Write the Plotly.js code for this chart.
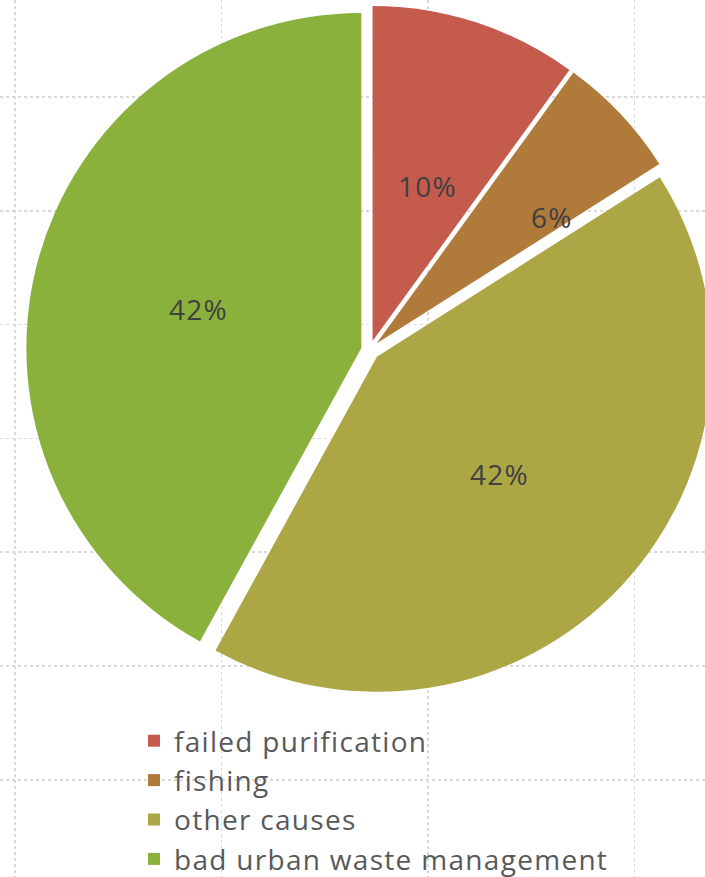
<!DOCTYPE html>
<html>
<head>
<meta charset="utf-8">
<script src="https://cdn.plot.ly/plotly-3.0.1.min.js"></script>
<style>
  html, body { margin: 0; padding: 0; overflow: hidden; background: #ffffff; }
  #chart { width: 740px; height: 900px; }
  .legendtext { letter-spacing: 1.3px; }
  .annotation-text { letter-spacing: 1.2px; }
</style>
</head>
<body>
<div id="chart"></div>
<script>
// ---- data ----
var labels = ["failed purification", "fishing", "other causes", "bad urban waste management"];
var values = [10, 6, 42, 42];
var colors = ["#C45B4D", "#B07A3B", "#ACA645", "#89B13C"];

// ---- layout / style ----
var W = 740, H = 900;              // paper slightly larger than the 705x877 view
var R = 335;                       // pie radius (px)
var CX = 369.6, CY = 350;          // pie centre (px)
var pullPx = [9.5, 9.5, 10, 8.5];  // explode distances (px)
var labelFrac = [0.49, 0.645, 0.505, 0.5];
var labelShift = [1.5, 7.5, 0.5, -1];

var pulls = pullPx.map(function (p) { return p / R; });
var maxPull = Math.max.apply(null, pulls);
var half = R * (1 + maxPull);
var domX = [(CX - half) / W, (CX + half) / W];
var domY = [1 - (CY + half) / H, 1 - (CY - half) / H];

// percentage labels, derived from the values
var total = values.reduce(function (a, b) { return a + b; }, 0);
var annotations = [];
var cum = 0;
for (var i = 0; i < values.length; i++) {
  var mid = 360 * (cum + values[i] / 2) / total;
  cum += values[i];
  var m = mid * Math.PI / 180;
  var tx = CX + pulls[i] * R * Math.sin(m);
  var ty = CY - pulls[i] * R * Math.cos(m);
  var a = (mid + labelShift[i]) * Math.PI / 180;
  var lx = tx + labelFrac[i] * R * Math.sin(a);
  var ly = ty - labelFrac[i] * R * Math.cos(a);
  annotations.push({
    xref: "paper", yref: "paper",
    x: lx / W, y: 1 - ly / H,
    xanchor: "center", yanchor: "middle",
    text: Math.round(100 * values[i] / total) + "%",
    showarrow: false,
    font: { family: "Open Sans", size: 28, color: "#404040" }
  });
}

var pie = {
  type: "pie",
  labels: labels,
  values: values,
  sort: false,
  direction: "clockwise",
  rotation: 0,
  pull: pulls,
  marker: { colors: colors, line: { width: 0 } },
  textinfo: "none",
  hoverinfo: "skip",
  domain: { x: domX, y: domY }
};

// empty cartesian trace so the dotted background grid is drawn
var gridHolder = { type: "scatter", x: [], y: [], showlegend: false, hoverinfo: "skip" };

var gx0 = 15, gxStep = 206.5, gy0 = 97, gyStep = 113.8;

var layout = {
  width: W, height: H,
  margin: { l: 0, r: 0, t: 0, b: 0 },
  paper_bgcolor: "#ffffff",
  plot_bgcolor: "rgba(0,0,0,0)",
  showlegend: true,
  xaxis: {
    range: [-gx0 / gxStep, (W - gx0) / gxStep],
    tick0: 0, dtick: 1,
    showgrid: true, gridcolor: "#d9d9d9", gridwidth: 1.5, griddash: "dot",
    zeroline: false, showticklabels: false, ticks: "", showline: false, fixedrange: true
  },
  yaxis: {
    range: [(H - gy0) / gyStep, -gy0 / gyStep],
    tick0: 0, dtick: 1,
    showgrid: true, gridcolor: "#d9d9d9", gridwidth: 1.5, griddash: "dot",
    zeroline: false, showticklabels: false, ticks: "", showline: false, fixedrange: true
  },
  legend: {
    x: 134 / W, xanchor: "left",
    y: 1 - 716 / H, yanchor: "top",
    bgcolor: "rgba(0,0,0,0)",
    borderwidth: 0,
    font: { family: "Open Sans", size: 28, color: "#595959" },
    traceorder: "normal"
  },
  annotations: annotations
};

Plotly.newPlot("chart", [gridHolder, pie], layout, { displayModeBar: false, staticPlot: true });
</script>
</body>
</html>
